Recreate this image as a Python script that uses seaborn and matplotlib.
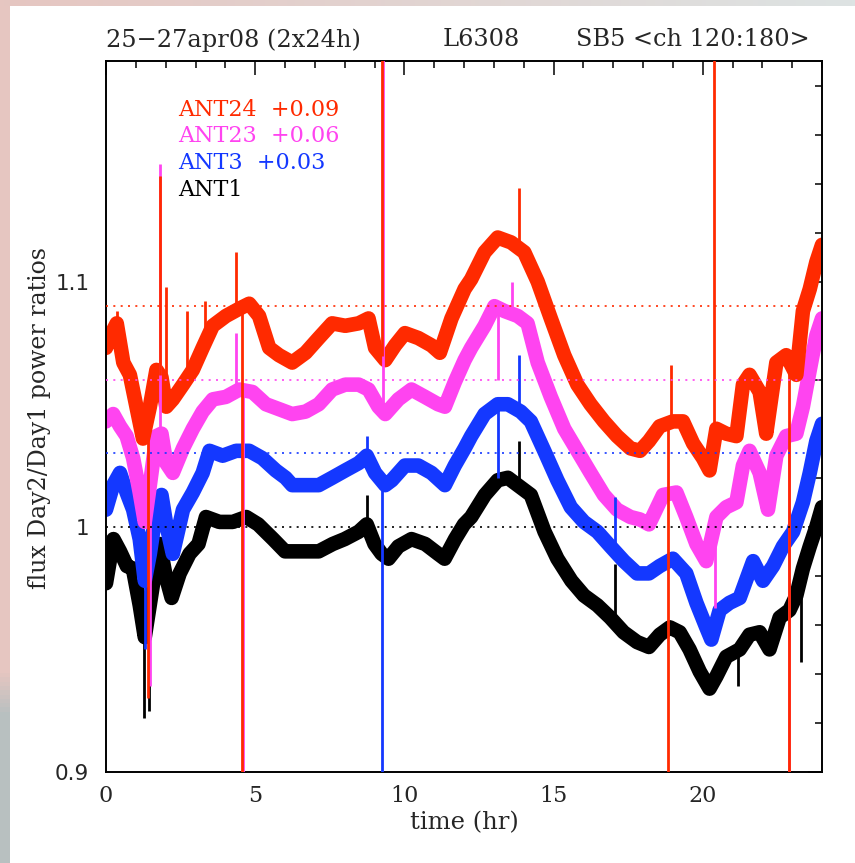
import numpy as np
import pandas as pd
import matplotlib
matplotlib.use("Agg")
import matplotlib.pyplot as plt
import seaborn as sns
from matplotlib.ticker import MultipleLocator, FuncFormatter

# ---------------- data ----------------
ant1_t = [0.0, 0.25, 0.47, 0.7, 0.9, 1.13, 1.3, 1.58, 1.8, 2.0, 2.2, 2.47, 2.8, 3.1, 3.35, 3.8,
          4.25, 4.7, 5.1, 5.6, 6.0, 6.24, 6.7, 7.13, 7.6, 8.0, 8.47, 8.74, 9.0, 9.24, 9.47, 9.8,
          10.24, 10.7, 11.13, 11.35, 11.7, 12.0, 12.24, 12.7, 13.13, 13.47, 13.8, 14.24, 14.7,
          15.13, 15.6, 16.02, 16.47, 16.9, 17.35, 17.8, 18.2, 18.56, 18.9, 19.23, 19.56, 19.9,
          20.23, 20.46, 20.79, 21.24, 21.57, 21.91, 22.24, 22.58, 22.91, 23.14, 23.36, 23.59,
          23.81, 24.0]
ant1_v = [0.977, 0.995, 0.990, 0.984, 0.983, 0.968, 0.955, 0.977, 0.993, 0.980, 0.971, 0.981,
          0.989, 0.993, 1.004, 1.002, 1.002, 1.004, 1.001, 0.995, 0.990, 0.990, 0.990, 0.990,
          0.993, 0.995, 0.998, 1.001, 0.993, 0.989, 0.987, 0.992, 0.995, 0.993, 0.989, 0.987,
          0.995, 1.001, 1.004, 1.013, 1.019, 1.020, 1.017, 1.013, 0.998, 0.987, 0.978, 0.972,
          0.968, 0.963, 0.957, 0.953, 0.951, 0.956, 0.959, 0.957, 0.950, 0.941, 0.934, 0.939,
          0.947, 0.950, 0.956, 0.957, 0.950, 0.963, 0.966, 0.972, 0.983, 0.992, 1.000, 1.008]

ant3_t = [0.0, 0.24, 0.47, 0.69, 0.91, 1.13, 1.3, 1.47, 1.69, 1.86, 2.02, 2.24, 2.58, 2.91, 3.24,
          3.47, 3.91, 4.36, 4.8, 5.24, 5.69, 6.02, 6.24, 6.69, 7.13, 7.58, 8.02, 8.47, 8.74, 9.02,
          9.36, 9.58, 10.02, 10.47, 10.91, 11.36, 11.69, 12.02, 12.24, 12.69, 13.13, 13.47, 13.9,
          14.24, 14.69, 15.13, 15.58, 16.02, 16.47, 16.91, 17.36, 17.8, 18.2, 18.56, 19.0, 19.45,
          19.79, 20.12, 20.29, 20.57, 20.9, 21.24, 21.69, 22.02, 22.36, 22.69, 23.03, 23.36,
          23.59, 23.81, 24.0]
ant3_v = [1.007, 1.017, 1.022, 1.014, 1.007, 0.995, 0.978, 0.989, 1.007, 1.013, 1.001, 0.989,
          1.007, 1.014, 1.022, 1.031, 1.029, 1.031, 1.031, 1.028, 1.023, 1.020, 1.017, 1.017,
          1.017, 1.020, 1.023, 1.026, 1.029, 1.022, 1.017, 1.019, 1.025, 1.025, 1.022, 1.017,
          1.025, 1.032, 1.037, 1.046, 1.050, 1.050, 1.047, 1.043, 1.031, 1.019, 1.008, 1.002,
          0.998, 0.992, 0.986, 0.981, 0.981, 0.984, 0.987, 0.981, 0.969, 0.959, 0.954, 0.966,
          0.969, 0.971, 0.986, 0.978, 0.984, 0.992, 0.998, 1.010, 1.022, 1.035, 1.042]

ant23_t = [0.0, 0.24, 0.47, 0.69, 0.91, 1.13, 1.3, 1.47, 1.69, 1.86, 2.02, 2.24, 2.58, 2.91, 3.24,
           3.58, 4.02, 4.47, 4.91, 5.36, 5.8, 6.24, 6.69, 7.13, 7.58, 8.02, 8.47, 8.8, 9.13, 9.36,
           9.8, 10.24, 10.69, 11.13, 11.36, 11.69, 12.02, 12.24, 12.69, 13.02, 13.36, 13.8, 14.13,
           14.47, 14.91, 15.36, 15.8, 16.24, 16.69, 17.13, 17.58, 17.9, 18.2, 18.67, 19.12, 19.45,
           19.79, 20.12, 20.46, 20.79, 21.13, 21.35, 21.57, 21.91, 22.19, 22.47, 22.8, 23.14,
           23.36, 23.59, 23.81, 24.0]
ant23_v = [1.043, 1.046, 1.041, 1.037, 1.028, 1.014, 1.002, 1.017, 1.037, 1.038, 1.026, 1.022,
           1.032, 1.040, 1.047, 1.052, 1.053, 1.056, 1.055, 1.050, 1.048, 1.046, 1.047, 1.050,
           1.056, 1.058, 1.058, 1.056, 1.049, 1.046, 1.052, 1.056, 1.053, 1.050, 1.049, 1.059,
           1.068, 1.073, 1.082, 1.090, 1.088, 1.086, 1.083, 1.067, 1.053, 1.040, 1.031, 1.022,
           1.013, 1.007, 1.004, 1.003, 1.001, 1.013, 1.014, 1.004, 0.993, 0.986, 1.004, 1.008,
           1.010, 1.025, 1.031, 1.022, 1.007, 1.029, 1.037, 1.038, 1.049, 1.064, 1.078, 1.085]

ant24_t = [0.0, 0.19, 0.36, 0.58, 0.8, 1.02, 1.24, 1.47, 1.69, 1.86, 2.02, 2.24, 2.58, 2.91, 3.24,
           3.58, 4.02, 4.47, 4.8, 5.13, 5.47, 5.8, 6.24, 6.69, 7.13, 7.58, 8.02, 8.47, 8.8, 9.02,
           9.36, 9.69, 10.02, 10.47, 10.91, 11.19, 11.58, 12.02, 12.24, 12.69, 13.13, 13.58, 14.02,
           14.47, 14.91, 15.36, 15.8, 16.24, 16.69, 17.13, 17.58, 17.9, 18.2, 18.56, 19.0, 19.34,
           19.68, 20.01, 20.23, 20.46, 20.79, 21.13, 21.35, 21.57, 21.91, 22.13, 22.47, 22.8,
           23.14, 23.36, 23.59, 23.81, 24.0]
ant24_v = [1.073, 1.079, 1.083, 1.067, 1.062, 1.049, 1.036, 1.049, 1.064, 1.061, 1.049, 1.052,
           1.058, 1.064, 1.073, 1.082, 1.086, 1.089, 1.091, 1.086, 1.073, 1.070, 1.067, 1.071,
           1.077, 1.083, 1.082, 1.083, 1.085, 1.073, 1.068, 1.074, 1.079, 1.077, 1.074, 1.071,
           1.085, 1.097, 1.101, 1.112, 1.118, 1.116, 1.112, 1.100, 1.085, 1.070, 1.058, 1.050,
           1.043, 1.037, 1.032, 1.031, 1.035, 1.041, 1.043, 1.043, 1.034, 1.028, 1.023, 1.040,
           1.038, 1.037, 1.058, 1.062, 1.055, 1.038, 1.067, 1.070, 1.062, 1.088, 1.097, 1.108,
           1.115]

# glitches (time, extreme value)
ant1_spike_t = [1.28, 1.45, 8.74, 13.83, 17.06, 21.2, 23.3]
ant1_spike_v = [0.922, 0.925, 1.013, 1.035, 0.985, 0.935, 0.945]
ant3_spike_t = [1.3, 8.74, 9.25, 13.15, 13.83, 17.06]
ant3_spike_v = [0.950, 1.037, 0.85, 1.020, 1.070, 1.012]
ant23_spike_t = [1.47, 1.81, 4.36, 4.58, 9.27, 13.15, 13.6, 20.4, 22.9]
ant23_spike_v = [0.935, 1.148, 1.079, 0.85, 1.25, 1.060, 1.100, 0.967, 0.85]
ant24_spike_t = [0.36, 1.42, 1.81, 2.02, 2.72, 3.33, 4.36, 4.56, 9.25, 13.83, 18.83, 18.93, 20.37, 22.88]
ant24_spike_v = [1.088, 0.930, 1.143, 1.098, 1.088, 1.092, 1.112, 0.85, 1.25, 1.138, 0.85, 1.066, 1.25, 0.85]

series_names = ["ANT1", "ANT3", "ANT23", "ANT24"]
offset_labels = ["ANT24  +0.09", "ANT23  +0.06", "ANT3  +0.03", "ANT1"]
offsets = [0.0, 0.03, 0.06, 0.09]
colors = {"ANT1": "#000000", "ANT3": "#1438ff", "ANT23": "#ff44f0", "ANT24": "#ff2a00"}

title_left = "25\u221227apr08 (2x24h)"
title_mid = "L6308"
title_right = "SB5 <ch 120:180>"
xlabel = "time (hr)"
ylabel = "flux Day2/Day1 power ratios"

# ---------------- figure ----------------
sns.set_style("white")
plt.rcParams["font.family"] = ["DejaVu Serif", "DejaVu Sans"]

fig = plt.figure(figsize=(8.55, 8.63), dpi=100)
fig.patch.set_facecolor("white")

# decorative slide border strips
def hex2rgb(h):
    h = h.lstrip("#")
    return np.array([int(h[i:i + 2], 16) / 255 for i in (0, 2, 4)])

axl = fig.add_axes([0, 0, 9 / 855, 1])
n = 200
c_top, c_bot = hex2rgb("#e6c6c1"), hex2rgb("#b8c0c0")
w = np.clip((np.linspace(0, 1, n) - 0.78) / 0.05, 0, 1)[:, None]
axl.imshow((c_top * (1 - w) + c_bot * w)[:, None, :], aspect="auto", extent=[0, 1, 0, 1])
axl.axis("off")
axt = fig.add_axes([0, 1 - 6 / 863, 1, 6 / 863])
c_l, c_r = hex2rgb("#e6c6c1"), hex2rgb("#dde3e3")
w2 = np.linspace(0, 1, n)[:, None]
axt.imshow((c_l * (1 - w2) + c_r * w2)[None, :, :], aspect="auto", extent=[0, 1, 0, 1])
axt.axis("off")

ax = fig.add_axes([106 / 855, 1 - 772 / 863, (822 - 106) / 855, (772 - 61) / 863])

frames = []
for name, t, v in [("ANT1", ant1_t, ant1_v), ("ANT3", ant3_t, ant3_v),
                   ("ANT23", ant23_t, ant23_v), ("ANT24", ant24_t, ant24_v)]:
    frames.append(pd.DataFrame({"t": t, "v": v, "series": name}))
df = pd.concat(frames, ignore_index=True)

sns.lineplot(data=df, x="t", y="v", hue="series", hue_order=series_names,
             palette=colors, lw=10.5, legend=False, estimator=None, sort=False, ax=ax)

spikes = [("ANT1", ant1_t, ant1_v, ant1_spike_t, ant1_spike_v),
          ("ANT3", ant3_t, ant3_v, ant3_spike_t, ant3_spike_v),
          ("ANT23", ant23_t, ant23_v, ant23_spike_t, ant23_spike_v),
          ("ANT24", ant24_t, ant24_v, ant24_spike_t, ant24_spike_v)]
for name, t, v, st, sv in spikes:
    base = np.interp(st, t, v)
    ax.vlines(st, base, sv, color=colors[name], lw=2.0, zorder=3)

for name, off in zip(series_names, offsets):
    ax.axhline(1.0 + off, color=colors[name], ls=(0, (1.2, 3.2)), lw=1.2, zorder=5)

ax.set_xlim(0, 24)
ax.set_ylim(0.9, 1.19)
ax.xaxis.set_major_locator(MultipleLocator(5))
ax.xaxis.set_minor_locator(MultipleLocator(1))
ax.yaxis.set_major_locator(MultipleLocator(0.1))
ax.yaxis.set_minor_locator(MultipleLocator(0.02))
ax.yaxis.set_major_formatter(FuncFormatter(lambda y, p: f"{y:g}"))
ax.tick_params(which="both", direction="in", top=True, right=True, width=1.1, color="black")
ax.tick_params(which="major", length=10)
ax.tick_params(which="minor", length=5)
ax.tick_params(axis="x", labelsize=16, pad=9)
ax.tick_params(axis="y", labelsize=15.5, pad=12)
for lab in ax.get_yticklabels():
    lab.set_family("DejaVu Sans")
for s in ax.spines.values():
    s.set_linewidth(1.4)
    s.set_color("black")
ax.set_xlabel("")
ax.set_ylabel("")

fig.text(40 / 855, 1 - 418 / 863, ylabel, rotation=90, ha="center", va="center", fontsize=17)
fig.text(464 / 855, 1 - 823 / 863, xlabel, ha="center", va="center", fontsize=17.5)

ty = 1 - 40 / 863
fig.text(106 / 855, ty, title_left, ha="left", va="center", fontsize=17.3)
fig.text(481 / 855, ty, title_mid, ha="center", va="center", fontsize=17.3)
fig.text(810 / 855, ty, title_right, ha="right", va="center", fontsize=17.3)

leg_colors = [colors["ANT24"], colors["ANT23"], colors["ANT3"], colors["ANT1"]]
leg_y = [110, 136, 163, 190]
for lab, c, yy in zip(offset_labels, leg_colors, leg_y):
    ax.text((178 - 106) / 716, (772 - yy) / 711, lab, color=c, ha="left", va="center",
            fontsize=16, transform=ax.transAxes, zorder=6)

fig.savefig("out.png", dpi=100, facecolor="white")
